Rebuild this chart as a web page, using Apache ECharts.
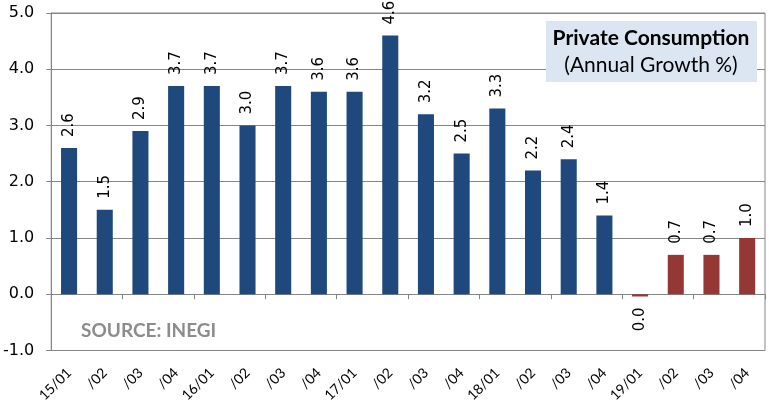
<!DOCTYPE html>
<html>
<head>
<meta charset="utf-8">
<script src="https://cdn.jsdelivr.net/npm/echarts@6/dist/echarts.min.js"></script>
<style>
  html, body { margin: 0; padding: 0; background: #fff; }
  #chart { width: 769px; height: 405px; }
</style>
</head>
<body>
<div id="chart"></div>
<script>
// Quarterly private consumption, annual growth %
const quarters = ['15/01', '/02', '/03', '/04', '16/01', '/02', '/03', '/04',
                  '17/01', '/02', '/03', '/04', '18/01', '/02', '/03', '/04',
                  '19/01', '/02', '/03', '/04'];
const growth = [2.6, 1.5, 2.9, 3.7, 3.7, 3.0, 3.7, 3.6,
                3.6, 4.6, 3.2, 2.5, 3.3, 2.2, 2.4, 1.4,
                -0.04, 0.7, 0.7, 1.0];
// quarters from this index on are drawn in the second colour
const highlightFrom = 16;
const yTicks = [-1, 0, 1, 2, 3, 4, 5];

const BLUE = '#1F497D';
const RED = '#953735';
const GRID = '#868686';

function fmt(v) {
  const s = v.toFixed(1);
  return s === '-0.0' ? '0.0' : s;
}

const barData = growth.map(function (v, i) {
  const item = { value: v, itemStyle: { color: i >= highlightFrom ? RED : BLUE } };
  if (v < 0) {
    item.label = { position: 'bottom', align: 'right' };
  }
  return item;
});

const chart = echarts.init(document.getElementById('chart'), null, { renderer: 'canvas' });
chart.setOption({
  animation: false,
  grid: { left: 50, right: 4, top: 13, bottom: 54, show: true, borderColor: GRID, borderWidth: 1 },
  xAxis: [
    {
      type: 'category',
      data: quarters,
      axisLine: { onZero: true, lineStyle: { color: GRID } },
      axisTick: { show: true, length: 5, lineStyle: { color: GRID } },
      axisLabel: { show: false }
    },
    {
      type: 'category',
      data: quarters,
      position: 'bottom',
      axisLine: { show: false },
      axisTick: { show: false },
      axisLabel: {
        rotate: 45, margin: 20, color: '#000',
        fontFamily: 'Lato', fontSize: 14, interval: 0
      }
    }
  ],
  yAxis: {
    type: 'value',
    min: yTicks[0], max: yTicks[yTicks.length - 1], interval: 1,
    axisLine: { show: true, lineStyle: { color: GRID } },
    axisTick: { show: true, length: 5, lineStyle: { color: GRID } },
    splitLine: { lineStyle: { color: GRID } },
    axisLabel: {
      formatter: function (v) { return v.toFixed(1); },
      color: '#000', fontFamily: 'DejaVu Sans', fontSize: 16, margin: 17
    }
  },
  series: [{
    type: 'bar',
    xAxisIndex: 0,
    data: barData,
    barWidth: '45%',
    label: {
      show: true,
      position: 'top',
      rotate: 90,
      align: 'left',
      verticalAlign: 'middle',
      distance: 11,
      color: '#000',
      fontFamily: 'DejaVu Sans',
      fontSize: 15,
      formatter: function (p) { return fmt(p.value); }
    }
  }],
  graphic: [
    {
      type: 'rect',
      shape: { x: 546, y: 21, width: 211, height: 61 },
      style: { fill: '#DCE6F2' },
      z: 10
    },
    {
      type: 'text',
      x: 651, y: 38,
      style: {
        text: 'Private Consumption', fill: '#000',
        font: 'bold 21px Lato', align: 'center', verticalAlign: 'middle'
      },
      z: 11
    },
    {
      type: 'text',
      x: 651, y: 65,
      style: {
        text: '(Annual Growth %)', fill: '#000',
        font: '21px Lato', align: 'center', verticalAlign: 'middle'
      },
      z: 11
    },
    {
      type: 'text',
      x: 81, y: 331,
      style: {
        text: 'SOURCE: INEGI', fill: '#8C8C8C',
        font: 'bold 19px Lato', align: 'left', verticalAlign: 'middle'
      },
      z: 11
    }
  ]
});
</script>
</body>
</html>
